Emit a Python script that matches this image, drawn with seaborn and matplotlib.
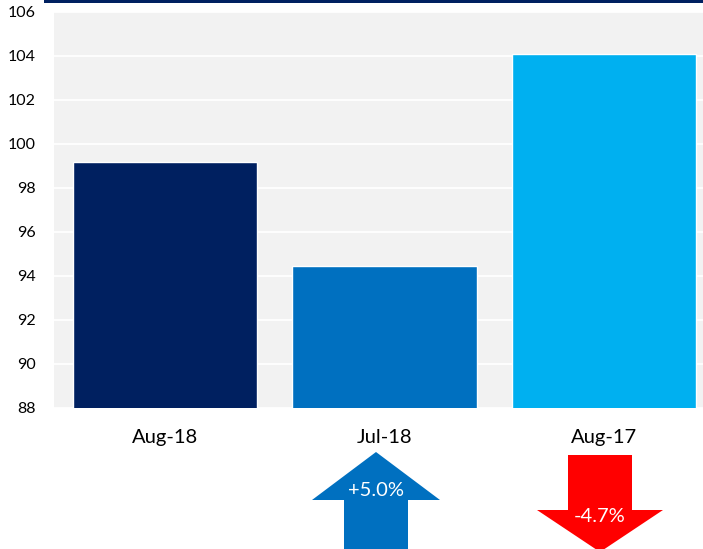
import matplotlib
matplotlib.use("Agg")
import matplotlib.pyplot as plt
import seaborn as sns
import pandas as pd
from matplotlib.patches import Polygon, Rectangle

# ---- data ----
categories = ["Aug-18", "Jul-18", "Aug-17"]
values = [99.18, 94.45, 104.09]
bar_colors = ["#002060", "#0070C0", "#00B0F0"]
y_ticks = [88, 90, 92, 94, 96, 98, 100, 102, 104, 106]
change_labels = ["+5.0%", "-4.7%"]

sns.set_style("white")
plt.rcParams["font.family"] = ["Lato", "DejaVu Sans"]

W, H = 703, 549
fig = plt.figure(figsize=(W / 100, H / 100), dpi=100)

def fx(px):
    return px / W

def fy(py):
    return 1 - py / H

ax = fig.add_axes([fx(54), fy(408), fx(703) - fx(54), fy(12) - fy(408)])
ax.set_facecolor("#F2F2F2")

df = pd.DataFrame({"cat": categories, "val": values})
sns.barplot(data=df, x="cat", y="val", hue="cat", palette=bar_colors,
            legend=False, width=0.84, ax=ax, saturation=1, zorder=3)

ax.set_ylim(88, 106)
ax.set_xlim(-0.506, 2.451)
ax.set_yticks(y_ticks)
ax.set_yticklabels([str(t) for t in y_ticks], fontsize=11.5, color="black")
ax.tick_params(axis="y", length=0, pad=13)
ax.tick_params(axis="x", length=0, pad=15, labelsize=14.5, labelcolor="black")
ax.set_xlabel("")
ax.set_ylabel("")
ax.grid(axis="y", color="white", linewidth=1.3, zorder=1)
ax.grid(axis="x", visible=False)
ax.set_axisbelow(True)
for s in ax.spines.values():
    s.set_visible(False)

# top navy band
fig.add_artist(Rectangle((fx(44), fy(3)), fx(703) - fx(44), fy(0) - fy(3),
                         transform=fig.transFigure, color="#002060", lw=0))

# up arrow (Jul-18)
up = [(376, 452), (440, 500), (408, 500), (408, 549), (344, 549), (344, 500), (312, 500)]
fig.add_artist(Polygon([(fx(x), fy(y)) for x, y in up], closed=True,
                       transform=fig.transFigure, facecolor="#0070C0", edgecolor="none"))
fig.text(fx(376), fy(490), change_labels[0], color="white", fontsize=14.5,
         ha="center", va="center")

# down arrow (Aug-17)
dn = [(568, 455), (632, 455), (632, 510), (663, 510), (600, 552), (537, 510), (568, 510)]
fig.add_artist(Polygon([(fx(x), fy(y)) for x, y in dn], closed=True,
                       transform=fig.transFigure, facecolor="#FF0000", edgecolor="none"))
fig.text(fx(600), fy(517), change_labels[1], color="white", fontsize=14.5,
         ha="center", va="center")

fig.savefig("out.png", dpi=100)
